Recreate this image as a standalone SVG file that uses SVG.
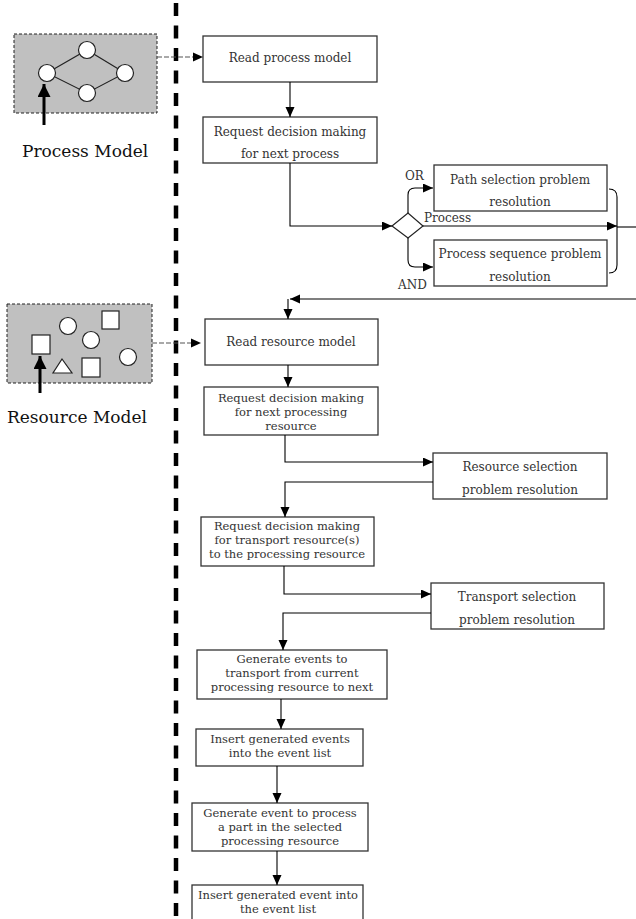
<svg xmlns="http://www.w3.org/2000/svg" width="636" height="919" viewBox="0 0 636 919">
<style>
.box{fill:#fff;stroke:#333;stroke-width:1.3}
.t{font-family:"DejaVu Serif","Liberation Serif",serif;font-size:12px;fill:#333;text-anchor:middle}
.t3{font-family:"DejaVu Serif","Liberation Serif",serif;font-size:11.5px;fill:#333;text-anchor:middle}
.lbl{font-family:"DejaVu Serif","Liberation Serif",serif;font-size:12px;fill:#333}
.big{font-family:"DejaVu Serif","Liberation Serif",serif;font-size:17px;fill:#111}
.c{fill:none;stroke:#000;stroke-width:1.1}
.dash{fill:none;stroke:#555;stroke-width:1.2;stroke-dasharray:5 2}
.shape{fill:#fff;stroke:#222;stroke-width:1.2}
.model{fill:#c0c0c0;stroke:#222;stroke-width:1;stroke-dasharray:3 2}
</style>
<defs>
<marker id="ah" markerUnits="userSpaceOnUse" markerWidth="11" markerHeight="10" refX="10" refY="4.5" orient="auto">
<path d="M0,0 L10,4.5 L0,9 z" fill="#000"/>
</marker>
<marker id="big" markerUnits="userSpaceOnUse" markerWidth="14" markerHeight="14" refX="13" refY="6.5" orient="auto">
<path d="M0,0 L13,6.5 L0,13 z" fill="#000"/>
</marker>
</defs>

<line x1="176" y1="3" x2="176" y2="919" stroke="#000" stroke-width="4.5" stroke-dasharray="13 9.5"/>

<g id="process-model">
<rect class="model" x="14" y="34" width="143" height="79"/>
<path d="M47,73 L87,50 L125,73 L87,93 Z" fill="none" stroke="#222" stroke-width="1.1"/>
<circle class="shape" cx="47" cy="73" r="8.5"/>
<circle class="shape" cx="87" cy="50" r="8.5"/>
<circle class="shape" cx="125" cy="73" r="8.5"/>
<circle class="shape" cx="87" cy="93" r="8.5"/>
<line x1="44" y1="125" x2="44" y2="84" stroke="#000" stroke-width="3" marker-end="url(#big)"/>
<text class="big" x="22" y="157">Process Model</text>
</g>

<g id="resource-model">
<rect class="model" x="7" y="304" width="145" height="79"/>
<rect class="shape" x="32" y="335" width="18" height="19"/>
<circle class="shape" cx="68" cy="326" r="8.5"/>
<rect class="shape" x="102" y="311" width="17" height="18"/>
<circle class="shape" cx="91" cy="340" r="8.5"/>
<path class="shape" d="M62,359 L72,373 L53,373 Z"/>
<rect class="shape" x="82" y="358" width="18" height="19"/>
<circle class="shape" cx="128" cy="357" r="8.5"/>
<line x1="40" y1="393" x2="40" y2="356" stroke="#000" stroke-width="3" marker-end="url(#big)"/>
<text class="big" x="7" y="423">Resource Model</text>
</g>

<g id="read-process">
<rect class="box" x="203" y="36" width="174" height="46"/>
<text class="t" x="290" y="62">Read process model</text>
</g>
<g id="request-next-process">
<rect class="box" x="203" y="117" width="174" height="46"/>
<text class="t" x="290" y="136">Request decision making</text>
<text class="t" x="290" y="158">for next process</text>
</g>
<g id="decision">
<path d="M392,226 L408,213 L423,226 L408,238 Z" fill="#fff" stroke="#222" stroke-width="1.2"/>
</g>
<g id="path-selection">
<rect class="box" x="434" y="165" width="173" height="46"/>
<text class="t" x="520" y="184">Path selection problem</text>
<text class="t" x="520" y="206">resolution</text>
</g>
<g id="process-sequence">
<rect class="box" x="434" y="240" width="173" height="46"/>
<text class="t" x="520" y="258">Process sequence problem</text>
<text class="t" x="520" y="281">resolution</text>
</g>
<g id="read-resource">
<rect class="box" x="205" y="319" width="173" height="46"/>
<text class="t" x="291" y="346">Read resource model</text>
</g>
<g id="request-next-resource">
<rect class="box" x="204" y="387" width="174" height="48"/>
<text class="t3" x="291" y="402">Request decision making</text>
<text class="t3" x="291" y="416">for next processing</text>
<text class="t3" x="291" y="430">resource</text>
</g>
<g id="resource-selection">
<rect class="box" x="433" y="453" width="174" height="46"/>
<text class="t" x="520" y="471">Resource selection</text>
<text class="t" x="520" y="494">problem resolution</text>
</g>
<g id="request-transport">
<rect class="box" x="201" y="517" width="173" height="49"/>
<text class="t3" x="287" y="530">Request decision making</text>
<text class="t3" x="287" y="544">for transport resource(s)</text>
<text class="t3" x="287" y="558">to the processing resource</text>
</g>
<g id="transport-selection">
<rect class="box" x="431" y="583" width="173" height="46"/>
<text class="t" x="517" y="601">Transport selection</text>
<text class="t" x="517" y="624">problem resolution</text>
</g>
<g id="generate-transport">
<rect class="box" x="197" y="650" width="190" height="49"/>
<text class="t3" x="292" y="663">Generate events to</text>
<text class="t3" x="292" y="677">transport from current</text>
<text class="t3" x="292" y="691">processing resource to next</text>
</g>
<g id="insert-events">
<rect class="box" x="196" y="729" width="167" height="37"/>
<text class="t3" x="280" y="743">Insert generated events</text>
<text class="t3" x="280" y="757">into the event list</text>
</g>
<g id="generate-process">
<rect class="box" x="192" y="803" width="176" height="48"/>
<text class="t3" x="280" y="817">Generate event to process</text>
<text class="t3" x="280" y="831">a part in the selected</text>
<text class="t3" x="280" y="845">processing resource</text>
</g>
<g id="insert-event">
<rect class="box" x="192" y="885" width="171" height="40"/>
<text class="t3" x="278" y="899">Insert generated event into</text>
<text class="t3" x="278" y="913">the event list</text>
</g>

<g id="connectors">
<line class="dash" x1="157" y1="57" x2="194" y2="57"/>
<path d="M193,52.5 L203,57 L193,61.5 z" fill="#000"/>
<line class="dash" x1="152" y1="343" x2="192" y2="343"/>
<path d="M191,338.5 L201,343 L191,347.5 z" fill="#000"/>
<path class="c" d="M290,82 V117" marker-end="url(#ah)"/>
<path class="c" d="M290,163 V226 H392" marker-end="url(#ah)"/>
<path class="c" d="M408,213 V195 Q408,188 415,188 H433" marker-end="url(#ah)"/>
<path class="c" d="M408,238 V260 Q408,267 415,267 H433" marker-end="url(#ah)"/>
<path class="c" d="M423,226 H617" marker-end="url(#ah)"/>
<path class="c" d="M617,227 H636"/>
<path class="c" d="M609,189 Q617,189 617,197 V265 Q617,273 609,273"/>
<path class="c" d="M636,299 H290" marker-end="url(#ah)"/>
<path class="c" d="M288,299 V319" marker-end="url(#ah)"/>
<path class="c" d="M288,365 V387" marker-end="url(#ah)"/>
<path class="c" d="M285,435 V462 H433" marker-end="url(#ah)"/>
<path class="c" d="M433,482 H285 V517" marker-end="url(#ah)"/>
<path class="c" d="M284,566 V594 H431" marker-end="url(#ah)"/>
<path class="c" d="M431,613 H283 V650" marker-end="url(#ah)"/>
<path class="c" d="M281,699 V729" marker-end="url(#ah)"/>
<path class="c" d="M277,766 V803" marker-end="url(#ah)"/>
<path class="c" d="M277,851 V885" marker-end="url(#ah)"/>
</g>

<g id="labels">
<text class="lbl" x="405" y="180">OR</text>
<text class="lbl" x="424" y="222">Process</text>
<text class="lbl" x="398" y="289">AND</text>
</g>
</svg>
